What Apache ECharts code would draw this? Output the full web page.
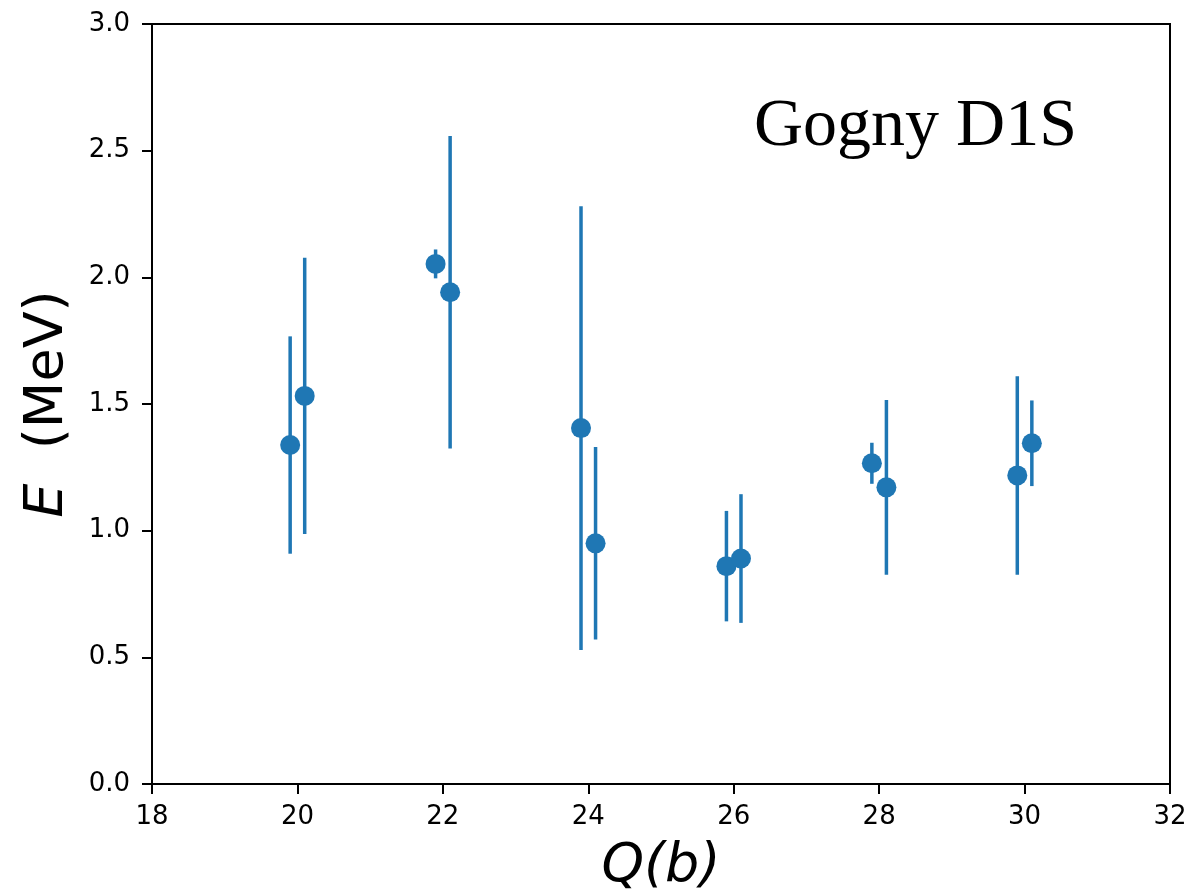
<!DOCTYPE html>
<html>
<head>
<meta charset="utf-8">
<script src="https://cdn.jsdelivr.net/npm/echarts@6/dist/echarts.min.js"></script>
<style>
  html, body { margin: 0; padding: 0; background: #fff; }
  #chart { width: 1189px; height: 892px; }
</style>
</head>
<body>
<div id="chart"></div>
<script>
// Quadrupole deformation Q (b) and excitation energy E (MeV) with symmetric uncertainties
const qValues = [19.9, 20.1, 21.9, 22.1, 23.9, 24.1, 25.9, 26.1, 27.9, 28.1, 29.9, 30.1];
const eValues = [1.338, 1.532, 2.053, 1.941, 1.405, 0.950, 0.860, 0.890, 1.266, 1.171, 1.218, 1.345];
const eErrors = [0.429, 0.545, 0.057, 0.617, 0.876, 0.380, 0.218, 0.254, 0.081, 0.345, 0.392, 0.169];
const xTicks = [18, 20, 22, 24, 26, 28, 30, 32];
const yTicks = [0.0, 0.5, 1.0, 1.5, 2.0, 2.5, 3.0];
const labelText = 'Gogny D1S';

const blue = '#1f77b4';
const points = qValues.map((q, i) => [q, eValues[i]]);
const bars = qValues.map((q, i) => [q, eValues[i] - eErrors[i], eValues[i] + eErrors[i]]);

const chart = echarts.init(document.getElementById('chart'), null, { renderer: 'canvas' });

const axisFont = { fontFamily: 'DejaVu Sans', fontSize: 26, color: '#000' };

chart.setOption({
  animation: false,
  backgroundColor: '#fff',
  grid: {
    left: 152, right: 19, top: 24, bottom: 108,
    outerBoundsMode: 'none',
    containLabel: false,
    show: true, borderColor: '#000', borderWidth: 2, backgroundColor: 'transparent'
  },
  title: {
    text: labelText,
    left: 749, top: 88,
    textStyle: { fontFamily: 'Liberation Serif', fontSize: 68, fontWeight: 'normal', color: '#000' }
  },
  xAxis: {
    type: 'value',
    min: xTicks[0], max: xTicks[xTicks.length - 1], interval: 2,
    name: 'Q(b)',
    nameLocation: 'middle',
    nameGap: 56,
    nameTextStyle: { fontFamily: 'DejaVu Sans', fontStyle: 'italic', fontSize: 54, color: '#000' },
    axisLine: { show: true, onZero: false, lineStyle: { color: '#000', width: 2 } },
    axisTick: { show: true, inside: false, length: 10, lineStyle: { color: '#000', width: 2 } },
    axisLabel: Object.assign({ margin: 20, formatter: v => String(v) }, axisFont),
    splitLine: { show: false }
  },
  yAxis: {
    type: 'value',
    min: yTicks[0], max: yTicks[yTicks.length - 1], interval: 0.5,
    name: '{it|E}  (MeV)',
    nameLocation: 'middle',
    nameGap: 77,
    nameRotate: 90,
    nameTextStyle: {
      fontFamily: 'DejaVu Sans', fontSize: 54, color: '#000',
      rich: { it: { fontFamily: 'DejaVu Sans', fontStyle: 'italic', fontSize: 54, color: '#000' } }
    },
    axisLine: { show: true, onZero: false, lineStyle: { color: '#000', width: 2 } },
    axisTick: { show: true, inside: false, length: 10, lineStyle: { color: '#000', width: 2 } },
    axisLabel: Object.assign({ margin: 22, formatter: v => v.toFixed(1) }, axisFont),
    splitLine: { show: false }
  },
  series: [
    {
      type: 'custom',
      data: bars,
      z: 2,
      renderItem: (params, api) => {
        const lo = api.coord([api.value(0), api.value(1)]);
        const hi = api.coord([api.value(0), api.value(2)]);
        return {
          type: 'line',
          shape: { x1: lo[0], y1: lo[1], x2: hi[0], y2: hi[1] },
          style: { stroke: blue, lineWidth: 3.5 }
        };
      },
      encode: { x: 0, y: [1, 2] }
    },
    {
      type: 'scatter',
      data: points,
      z: 3,
      symbol: 'circle',
      symbolSize: 20,
      itemStyle: { color: blue, opacity: 1 }
    }
  ]
});
</script>
</body>
</html>
